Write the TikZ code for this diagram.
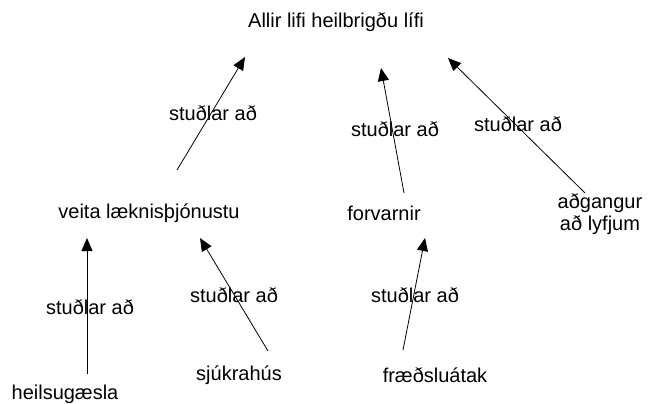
\documentclass[tikz,border=0pt]{standalone}
\usepackage{fontspec}
\setmainfont{Liberation Sans}
\usetikzlibrary{arrows.meta}
\begin{document}
\begin{tikzpicture}[x=1pt,y=-1pt,
  lbl/.style={inner sep=0pt, font=\fontsize{20}{23}\selectfont, align=center},
  conn/.style={-{Triangle[length=13pt,width=11pt]}, line width=0.8pt}]
\useasboundingbox[fill=white] (0,0) rectangle (648,404);
% concept nodes
\node[lbl] (goal) at (336,22) {Allir lifi heilbrigðu lífi};
\node[lbl] (veita) at (149,213) {veita læknisþjónustu};
\node[lbl] (forv) at (384,213) {forvarnir};
\node[lbl] (adg) at (600,214) {aðgangur\\[-1pt]að lyfjum};
\node[lbl] (heil) at (65,394) {heilsugæsla};
\node[lbl] (sjuk) at (239,375) {sjúkrahús};
\node[lbl] (fraed) at (435,375) {fræðsluátak};
% connector ends
\coordinate (a1s) at (177,170); \coordinate (a1e) at (245,57);
\coordinate (a2s) at (404,193); \coordinate (a2e) at (381,68);
\coordinate (a3s) at (585,193); \coordinate (a3e) at (448,58);
\coordinate (a4s) at (87,374);  \coordinate (a4e) at (87,238);
\coordinate (a5s) at (268,351); \coordinate (a5e) at (200,238);
\coordinate (a6s) at (403,350); \coordinate (a6e) at (425,238);
\draw[conn] (a1s) -- (a1e);
\draw[conn] (a2s) -- (a2e);
\draw[conn] (a3s) -- (a3e);
\draw[conn] (a4s) -- (a4e);
\draw[conn] (a5s) -- (a5e);
\draw[conn] (a6s) -- (a6e);
% link labels
\node[lbl] (l1) at (213,113) {stuðlar að};
\node[lbl] (l2) at (395,129) {stuðlar að};
\node[lbl] (l3) at (518,124) {stuðlar að};
\node[lbl] (l4) at (90,307) {stuðlar að};
\node[lbl] (l5) at (234,295) {stuðlar að};
\node[lbl] (l6) at (415,295) {stuðlar að};
\end{tikzpicture}
\end{document}
